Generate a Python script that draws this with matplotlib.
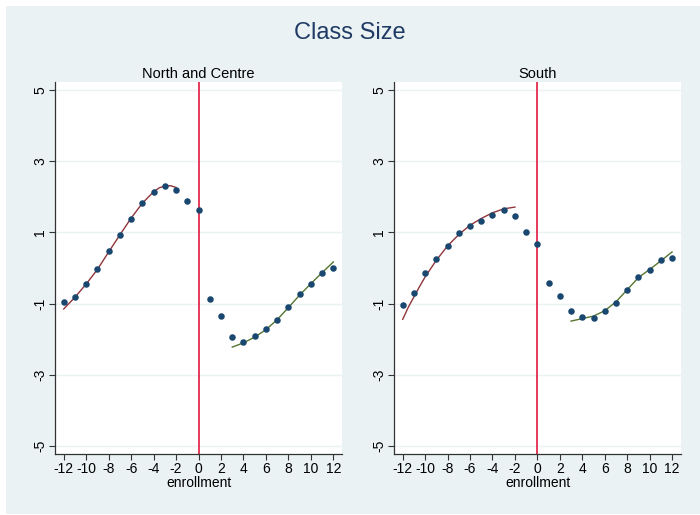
import matplotlib
matplotlib.use("Agg")
import matplotlib.pyplot as plt
from matplotlib.patches import Rectangle

plt.rcParams['font.family'] = ['Liberation Sans', 'DejaVu Sans']

x_vals = list(range(-12, 13))

# North and Centre
nc_points = [-0.95, -0.81, -0.44, -0.03, 0.49, 0.94, 1.38, 1.83, 2.13, 2.31, 2.20, 1.89, 1.64,
             -0.88, -1.35, -1.95, -2.09, -1.91, -1.72, -1.45, -1.10, -0.72, -0.44, -0.15, 0.01]
nc_left_x = [-12, -11, -10, -9, -8, -7, -6, -5, -4, -3.5, -3, -2.5, -2]
nc_left_fit = [-1.15, -0.82, -0.45, -0.04, 0.45, 0.93, 1.40, 1.82, 2.14, 2.25, 2.30, 2.31, 2.26]
nc_right_x = [3, 4, 5, 6, 7, 8, 9, 10, 11, 12]
nc_right_fit = [-2.22, -2.10, -1.94, -1.73, -1.45, -1.11, -0.76, -0.44, -0.13, 0.17]

# South
s_points = [-1.04, -0.69, -0.15, 0.25, 0.62, 0.99, 1.19, 1.33, 1.50, 1.64, 1.45, 1.01, 0.67,
            -0.41, -0.79, -1.22, -1.38, -1.39, -1.20, -0.97, -0.62, -0.24, -0.05, 0.22, 0.27]
s_left_x = [-12, -11.5, -11, -10.5, -10, -9, -8, -7, -6, -5, -4, -3, -2]
s_left_fit = [-1.44, -1.10, -0.81, -0.52, -0.25, 0.22, 0.62, 0.94, 1.20, 1.39, 1.55, 1.66, 1.71]
s_right_x = [3, 4, 5, 6, 7, 8, 9, 10, 11, 12]
s_right_fit = [-1.49, -1.42, -1.35, -1.20, -0.95, -0.61, -0.27, -0.04, 0.20, 0.45]

panel_titles = ["North and Centre", "South"]
xticks = list(range(-12, 13, 2))
yticks = [-5, -3, -1, 1, 3, 5]
main_title = "Class Size"
xlabel = "enrollment"

BG = "#eaf2f3"
MARKER = "#1a476f"
RED = "#90353b"
GREEN = "#55752f"
VLINE = "#e5193f"

W, H = 700, 515
fig = plt.figure(figsize=(7.0, 5.15), dpi=100, facecolor="white")
fig.patches.append(Rectangle((6 / W, 1 / H), (W - 6) / W, (H - 7) / H,
                             transform=fig.transFigure, facecolor=BG,
                             edgecolor="none", zorder=-10))

def fx(px):
    return px / W

def fy(py):
    return 1 - py / H

panels = [
    (55.3, 342.0, nc_points, nc_left_x, nc_left_fit, nc_right_x, nc_right_fit),
    (394.3, 680.7, s_points, s_left_x, s_left_fit, s_right_x, s_right_fit),
]
top, bottom = 82, 454
for i, (l, r, pts, lx, lf, rx, rf) in enumerate(panels):
    ax = fig.add_axes([fx(l), fy(bottom), fx(r - l), (bottom - top) / H])
    ax.set_facecolor("white")
    ax.set_xlim(-12.75, 12.77)
    ax.set_ylim(-5.22, 5.22)
    for yv in yticks:
        ax.axhline(yv, color=BG, lw=1.0, zorder=0)
    ax.axvline(0, color=VLINE, lw=1.2, zorder=1)
    ax.plot(lx, lf, color=RED, lw=1.0, zorder=2)
    ax.plot(rx, rf, color=GREEN, lw=1.0, zorder=2)
    ax.scatter(x_vals, pts, s=22, color=MARKER, zorder=3, linewidths=0)
    ax.set_xticks(xticks)
    ax.set_xticklabels([str(t) for t in xticks], fontsize=10)
    ax.set_yticks(yticks)
    ax.set_yticklabels([str(t) for t in yticks], fontsize=10, rotation=90, va="center")
    for s in ["top", "right"]:
        ax.spines[s].set_visible(False)
    for s in ["left", "bottom"]:
        ax.spines[s].set_color("#333333")
        ax.spines[s].set_linewidth(0.9)
    ax.tick_params(direction="out", length=4, width=0.8, color="#333333", pad=2)
    ax.set_xlabel(xlabel, fontsize=10, labelpad=0)
    ax.set_title(panel_titles[i], fontsize=10.5, pad=3)

fig.text(0.5, fy(33), main_title, ha="center", va="center", fontsize=17, color="#1f3a64")

fig.savefig("out.png", dpi=100, facecolor=fig.get_facecolor())
